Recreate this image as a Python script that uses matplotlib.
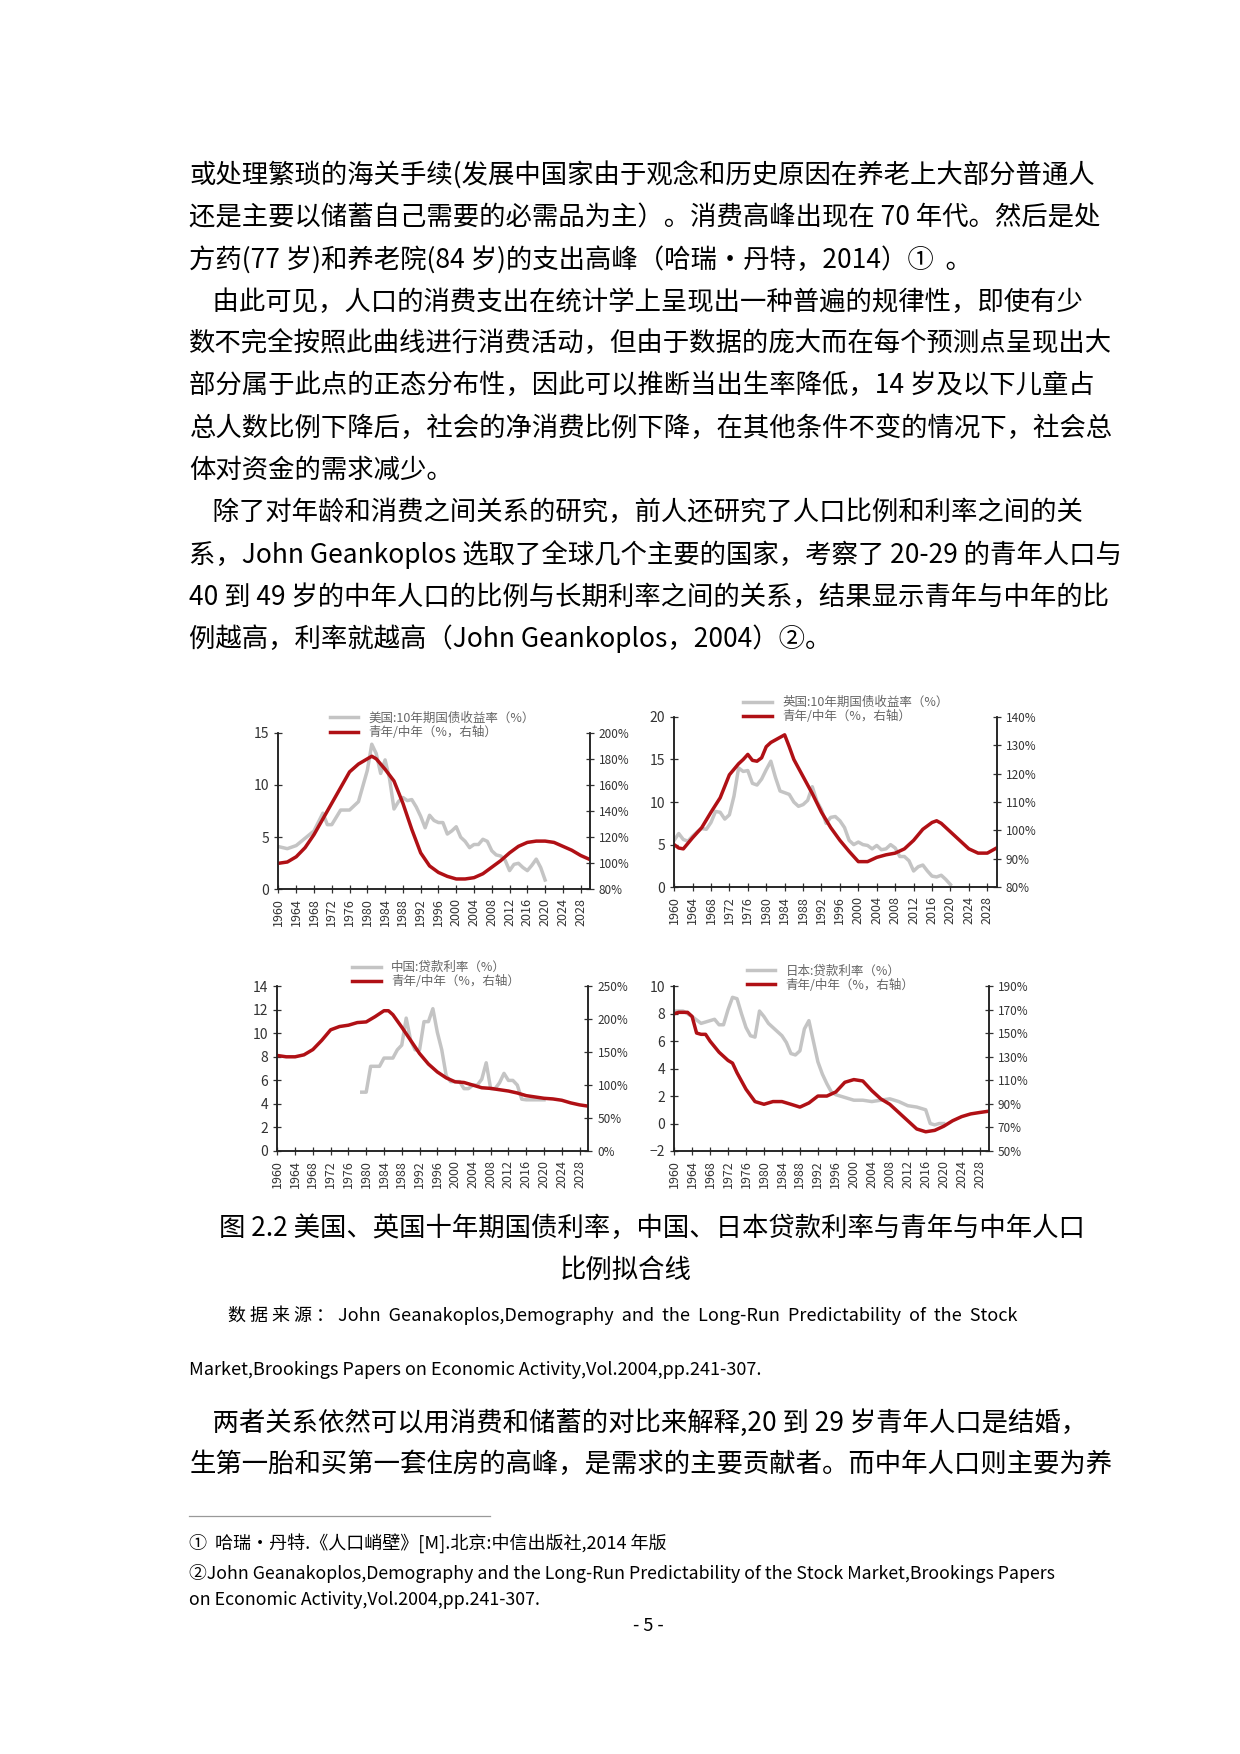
import matplotlib
matplotlib.use("Agg")
import matplotlib.pyplot as plt

plt.rcParams['font.family'] = ['Noto Sans CJK SC', 'DejaVu Sans']

W, H = 1240, 1754
S = 1240 / 1100
fig = plt.figure(figsize=(12.4, 17.54), dpi=100)

def fx(px): return px * S / W
def fy(py): return 1 - py * S / H

BF = 19
body1 = [
    "或处理繁琐的海关手续(发展中国家由于观念和历史原因在养老上大部分普通人",
    "还是主要以储蓄自己需要的必需品为主）。消费高峰出现在 70 年代。然后是处",
    "方药(77 岁)和养老院(84 岁)的支出高峰（哈瑞•丹特，2014）①  。",
    "    由此可见，人口的消费支出在统计学上呈现出一种普遍的规律性，即使有少",
    "数不完全按照此曲线进行消费活动，但由于数据的庞大而在每个预测点呈现出大",
    "部分属于此点的正态分布性，因此可以推断当出生率降低，14 岁及以下儿童占",
    "总人数比例下降后，社会的净消费比例下降，在其他条件不变的情况下，社会总",
    "体对资金的需求减少。",
    "    除了对年龄和消费之间关系的研究，前人还研究了人口比例和利率之间的关",
    "系，John Geankoplos 选取了全球几个主要的国家，考察了 20-29 的青年人口与",
    "40 到 49 岁的中年人口的比例与长期利率之间的关系，结果显示青年与中年的比",
    "例越高，利率就越高（John Geankoplos，2004）②。",
]
ys1 = [155, 193, 230, 268, 305, 342, 380, 417, 455, 492, 530, 567]
for t, y in zip(body1, ys1):
    fig.text(fx(168), fy(y), t, fontsize=BF, va='center', ha='left')

fig.text(fx(578), fy(1090), "图 2.2 美国、英国十年期国债利率，中国、日本贷款利率与青年与中年人口",
         fontsize=BF, va='center', ha='center')
fig.text(fx(555), fy(1127), "比例拟合线", fontsize=BF, va='center', ha='center')
fig.text(fx(202), fy(1167), "数 据 来 源 ： John  Geanakoplos,Demography  and  the  Long-Run  Predictability  of  the  Stock",
         fontsize=13, va='center', ha='left')
fig.text(fx(168), fy(1215), "Market,Brookings Papers on Economic Activity,Vol.2004,pp.241-307.",
         fontsize=13, va='center', ha='left')
fig.text(fx(168), fy(1262), "    两者关系依然可以用消费和储蓄的对比来解释,20 到 29 岁青年人口是结婚，",
         fontsize=BF, va='center', ha='left')
fig.text(fx(168), fy(1299), "生第一胎和买第一套住房的高峰，是需求的主要贡献者。而中年人口则主要为养",
         fontsize=BF, va='center', ha='left')
fig.add_artist(plt.Line2D([fx(168), fx(435)], [fy(1345), fy(1345)], color='#999999', lw=0.9))
fig.text(fx(168), fy(1369), "①  哈瑞•丹特.《人口峭壁》[M].北京:中信出版社,2014 年版", fontsize=13, va='center')
fig.text(fx(168), fy(1396), "②John Geanakoplos,Demography and the Long-Run Predictability of the Stock Market,Brookings Papers",
         fontsize=12.8, va='center')
fig.text(fx(168), fy(1419), "on Economic Activity,Vol.2004,pp.241-307.", fontsize=12.8, va='center')
fig.text(fx(575), fy(1442), "- 5 -", fontsize=13, va='center', ha='center')

# ---------------- data ----------------
us_rate_years = [1960,1962,1964,1966,1968,1970,1971,1972,1974,1976,1978,1980,1981,1982,1983,1984,1985,1986,1987,1988,1989,1990,1991,1992,1993,1994,1995,1996,1997,1998,1999,2000,2001,2002,2003,2004,2005,2006,2007,2008,2009,2010,2011,2012,2013,2014,2015,2016,2017,2018,2019,2020]
us_rate = [4.1,3.9,4.2,4.9,5.6,7.3,6.2,6.2,7.6,7.6,8.4,11.4,13.9,13.0,11.1,12.4,10.6,7.7,8.4,8.8,8.5,8.6,7.9,7.0,5.9,7.1,6.6,6.4,6.4,5.3,5.6,6.0,5.0,4.6,4.0,4.3,4.3,4.8,4.6,3.7,3.3,3.2,2.8,1.8,2.4,2.5,2.1,1.8,2.3,2.9,2.1,0.9]
us_ratio_years = [1960,1962,1964,1966,1968,1970,1972,1974,1976,1978,1980,1981,1982,1984,1986,1988,1990,1992,1994,1996,1998,2000,2002,2004,2006,2008,2010,2012,2014,2016,2018,2020,2022,2024,2026,2028,2030]
us_ratio = [100,101,105,112,122,134,146,158,170,176,180,182,180,172,163,146,126,108,98,93,90,88,88,89,92,97,102,108,113,116,117,117,116,113,110,106,103]

uk_rate_years = list(range(1960, 2021))
uk_rate = [5.5,6.3,5.6,5.4,6.0,6.5,6.9,6.8,7.6,8.9,8.8,8.0,8.5,10.7,14.0,13.6,13.7,12.2,12.0,12.7,13.8,14.8,12.9,11.3,11.1,10.9,10.0,9.5,9.7,10.2,11.8,10.1,9.1,7.5,8.2,8.3,7.8,7.0,5.5,5.0,5.3,5.0,4.9,4.5,4.9,4.4,4.5,5.0,4.6,3.6,3.6,3.1,1.9,2.4,2.6,1.9,1.3,1.2,1.4,0.9,0.3]
uk_ratio_years = [1960,1961,1962,1964,1966,1968,1970,1972,1974,1975,1976,1977,1978,1979,1980,1981,1982,1983,1984,1985,1986,1988,1990,1992,1994,1996,1998,2000,2002,2004,2006,2008,2010,2012,2014,2016,2017,2018,2020,2022,2024,2026,2028,2030]
uk_ratio = [95,93.8,93.5,97.4,101,106.4,111.5,119.6,123.5,125,126.8,124.7,124.4,125.6,129.5,131,131.9,132.8,133.7,129.5,125,119,113,106.4,101,96.5,92.6,89,89,90.5,91.4,92,93.5,96.5,100.4,102.8,103.4,102.5,99.5,96.5,93.5,92,92,93.8]

cn_rate_years = list(range(1979, 2021))
cn_rate = [5.0,5.0,7.2,7.2,7.2,7.9,7.9,7.9,8.6,9.0,11.3,9.4,8.6,8.6,11.0,11.0,12.1,10.1,8.6,6.4,5.9,5.9,5.9,5.3,5.3,5.6,5.6,6.1,7.5,5.3,5.3,5.8,6.6,6.0,6.0,5.6,4.4,4.35,4.35,4.35,4.35,4.35]
cn_ratio_years = [1960,1962,1964,1966,1968,1970,1972,1974,1976,1978,1980,1982,1984,1985,1986,1988,1990,1992,1994,1996,1998,2000,2002,2004,2006,2008,2010,2012,2014,2016,2018,2020,2022,2024,2026,2028,2030]
cn_ratio = [145,143,143,146,154,168,184,189,191,195,196,204,213,213,207,188,168,148,132,120,111,105,104,100,96,95,93,91,88,84,82,80,79,77,73,70,68]

jp_rate_years = [1960,1962,1964,1966,1968,1969,1970,1971,1972,1973,1974,1975,1976,1977,1978,1979,1980,1981,1982,1983,1984,1985,1986,1987,1988,1989,1990,1991,1992,1993,1994,1995,1996,1997,1998,1999,2000,2002,2004,2006,2008,2010,2012,2014,2016,2017,2018,2019,2020]
jp_rate = [8.2,8.2,7.8,7.3,7.5,7.6,7.2,7.2,8.3,9.2,9.1,8.0,7.0,6.4,6.3,8.2,7.8,7.3,7.0,6.7,6.4,5.9,5.1,5.0,5.3,6.9,7.5,6.0,4.5,3.6,2.9,2.3,2.1,2.0,1.9,1.8,1.7,1.7,1.6,1.7,1.8,1.6,1.3,1.2,1.0,0.0,-0.1,0.0,0.0]
jp_ratio_years = [1960,1961,1962,1963,1964,1965,1966,1967,1968,1970,1972,1973,1974,1976,1978,1980,1982,1984,1986,1988,1990,1992,1994,1996,1998,2000,2002,2004,2006,2008,2010,2012,2014,2016,2018,2020,2022,2024,2026,2028,2030]
jp_ratio = [166.7,167.9,167.9,167.9,164.4,150.3,149.2,149.2,143.4,134,127,124.7,116.5,102.5,92,89.7,92,92,89.7,87.3,90.8,96.7,96.7,100.2,108.4,110.7,109.5,101.3,94.3,89.7,82.7,75.7,68.7,66.3,67.5,71,75.7,79.2,81.5,82.7,83.8]

year_ticks = list(range(1960, 2029, 4))

GREY = '#c4c4c4'
RED = '#b01015'

def panel(box, rx, ry, ratx, raty, ylim, yticks, rlim, rticks, leg1, legpos):
    l, r, t, b = box
    ax = fig.add_axes([fx(l), fy(b), fx(r) - fx(l), fy(t) - fy(b)])
    ax2 = ax.twinx()
    g, = ax.plot(rx, ry, color=GREY, lw=2.5)
    rr, = ax2.plot(ratx, raty, color=RED, lw=2.5)
    ax.set_xlim(1960, 2030)
    ax.set_ylim(*ylim)
    ax.set_yticks(yticks)
    ax2.set_ylim(*rlim)
    ax2.set_yticks(rticks)
    ax2.set_yticklabels([f"{v}%" for v in rticks])
    ax.set_xticks(year_ticks)
    ax.set_xticklabels([str(y) for y in year_ticks], rotation=90)
    for a in (ax, ax2):
        a.spines['top'].set_visible(False)
        for s in a.spines.values():
            s.set_color('#222222'); s.set_linewidth(1.1)
        a.tick_params(direction='inout', length=6, width=0.9, colors='#333333', labelsize=9)
    ax.tick_params(axis='y', labelsize=10)
    ax2.tick_params(axis='y', labelsize=8.5)
    fig.legend([g, rr], [leg1, "青年/中年（%，右轴）"], loc='upper left',
               bbox_to_anchor=(fx(legpos[0]), fy(legpos[1])), frameon=False,
               fontsize=9, handlelength=2.3, labelspacing=0.1, borderaxespad=0,
               labelcolor='#666666')

panel((247, 523, 650, 789), us_rate_years, us_rate, us_ratio_years, us_ratio,
      (0, 15), [0, 5, 10, 15], (80, 200), list(range(80, 201, 20)),
      "美国:10年期国债收益率（%）", (288, 627))
panel((598, 884, 636, 787), uk_rate_years, uk_rate, uk_ratio_years, uk_ratio,
      (0, 20), [0, 5, 10, 15, 20], (80, 140), list(range(80, 141, 10)),
      "英国:10年期国债收益率（%）", (655, 613))
panel((246, 522, 875, 1021), cn_rate_years, cn_rate, cn_ratio_years, cn_ratio,
      (0, 14), list(range(0, 15, 2)), (0, 250), list(range(0, 251, 50)),
      "中国:贷款利率（%）", (308, 848))
panel((598, 877, 875, 1021), jp_rate_years, jp_rate, jp_ratio_years, jp_ratio,
      (-2, 10), list(range(-2, 11, 2)), (50, 190), list(range(50, 191, 20)),
      "日本:贷款利率（%）", (658, 851))

fig.savefig("out.png", dpi=100, facecolor='white')
